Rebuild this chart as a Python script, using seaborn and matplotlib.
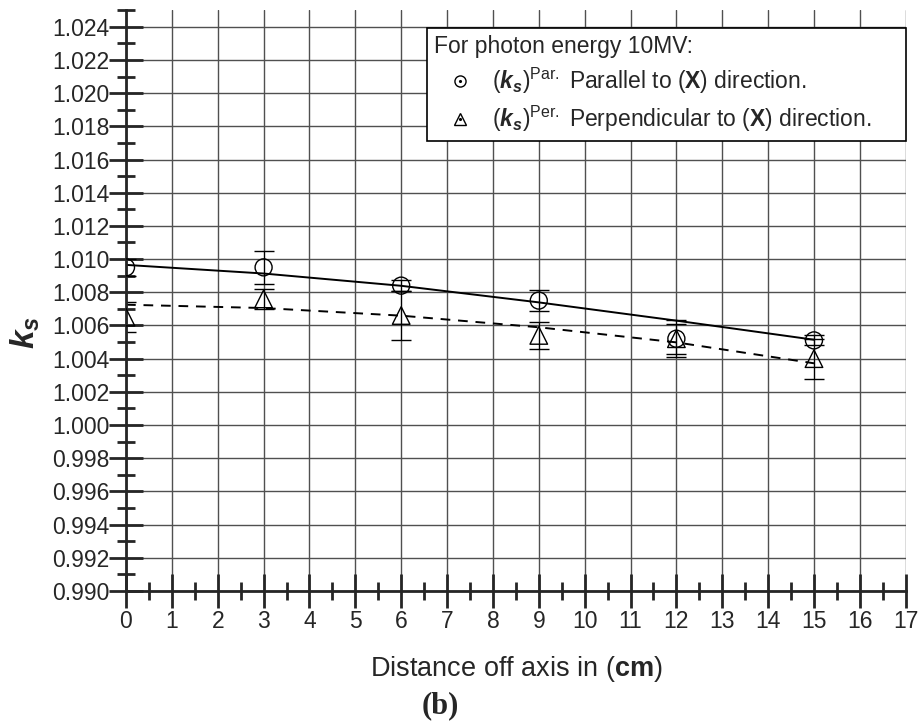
import numpy as np
import pandas as pd
import matplotlib
matplotlib.use("Agg")
import matplotlib.pyplot as plt
from matplotlib.lines import Line2D
from matplotlib.legend_handler import HandlerTuple
from matplotlib.ticker import MultipleLocator
import seaborn as sns

distance = [0, 3, 6, 9, 12, 15]
ks_par = [1.0095, 1.0095, 1.0084, 1.0075, 1.0052, 1.0051]
ks_par_err = [0.0005, 0.0010, 0.00035, 0.00063, 0.0009, 0.0003]
ks_per = [1.0065, 1.0076, 1.0066, 1.0054, 1.0052, 1.0040]
ks_per_err = [0.0009, 0.0006, 0.0015, 0.0008, 0.0011, 0.0012]

# fitted curves
fit_x = [0, 3, 6, 9, 12, 15]
par_fit = [1.00965, 1.00913, 1.00839, 1.00739, 1.00629, 1.00514]
per_fit = [1.00725, 1.00705, 1.00659, 1.00589, 1.00498, 1.00372]

sns.set_style("ticks")
plt.rcParams['font.family'] = ['Liberation Sans', 'DejaVu Sans']
plt.rcParams['mathtext.fontset'] = 'custom'
plt.rcParams['mathtext.rm'] = 'Liberation Sans'
plt.rcParams['mathtext.it'] = 'Liberation Sans:italic'
plt.rcParams['mathtext.bf'] = 'Liberation Sans:bold'
plt.rcParams['mathtext.bfit'] = 'Liberation Sans:italic:bold'

fig = plt.figure(figsize=(9.21, 7.26), dpi=100)
ax = fig.add_axes([0.1368, 0.186, 0.8466, 0.800])

df = pd.DataFrame({'x': distance, 'par': ks_par, 'per': ks_per})
fits = pd.DataFrame({'x': fit_x, 'par': par_fit, 'per': per_fit})

sns.lineplot(data=fits, x='x', y='par', color='black', lw=1.4, ax=ax)
sns.lineplot(data=fits, x='x', y='per', color='black', lw=1.4, ax=ax,
             linestyle=(0, (5, 4)))

ax.errorbar(distance, ks_par, yerr=ks_par_err, fmt='none', ecolor='black',
            elinewidth=0.8, capsize=7, capthick=1.0)
ax.errorbar(distance, ks_per, yerr=ks_per_err, fmt='none', ecolor='black',
            elinewidth=0.8, capsize=7, capthick=1.0)
sns.scatterplot(data=df, x='x', y='par', marker='o', s=150, facecolor='none',
                edgecolor='black', linewidth=1.0, ax=ax, zorder=5)
sns.scatterplot(data=df, x='x', y='per', marker='^', s=160, facecolor='none',
                edgecolor='black', linewidth=1.0, ax=ax, zorder=5)

ax.set_xlim(0, 17)
ax.set_ylim(0.990, 1.025)
ax.xaxis.set_major_locator(MultipleLocator(1))
ax.xaxis.set_minor_locator(MultipleLocator(0.5))
yt = np.arange(0.990, 1.0245, 0.002)
ax.set_yticks(yt)
ax.yaxis.set_minor_locator(MultipleLocator(0.001))
ax.set_yticklabels([f"{v:.3f}" for v in yt])

ax.grid(True, which='major', color='#505050', lw=1.0)
ax.xaxis.get_gridlines()[-1].set_visible(False)
ax.xaxis.get_gridlines()[0].set_visible(False)

for s in ['top', 'right']:
    ax.spines[s].set_visible(False)
ax.spines['left'].set_linewidth(2)
ax.spines['bottom'].set_linewidth(2)
ax.tick_params(which='major', direction='inout', length=24, width=2,
               labelsize=16.5)
ax.tick_params(which='minor', direction='inout', length=13, width=2)
ax.tick_params(axis='x', which='major', pad=2)
ax.tick_params(axis='y', which='major', pad=0)

ax.set_xlabel(r'Distance off axis in ($\mathbf{cm}$)', fontsize=19.5)
ax.xaxis.set_label_coords(0.501, -0.108)
ax.set_ylabel(r'$\mathbfit{k}_{\mathbfit{s}}$', fontsize=24)
ax.yaxis.set_label_coords(-0.108, 0.445)

h_par = (Line2D([], [], ls='none', marker='o', ms=8, mfc='none', mec='black', mew=1.0),
         Line2D([], [], ls='none', marker='.', ms=2.5, color='black'))
h_per = (Line2D([], [], ls='none', marker='^', ms=8, mfc='none', mec='black', mew=1.0),
         Line2D([], [], ls='none', marker='.', ms=2.5, color='black'))
leg = ax.legend([h_par, h_per],
                [r'$(\mathbfit{k}_{\mathbfit{s}})^{\mathrm{Par.}}$ Parallel to ($\mathbf{X}$) direction.',
                 r'$(\mathbfit{k}_{\mathbfit{s}})^{\mathrm{Per.}}$ Perpendicular to ($\mathbf{X}$) direction.'],
                handler_map={tuple: HandlerTuple(ndivide=1, pad=0)},
                title='For photon energy 10MV:', title_fontsize=16.5, fontsize=16.5,
                loc='upper left', bbox_to_anchor=(0.386, 0.769, 0.615, 0.2),
                mode='expand', borderaxespad=0,
                frameon=True, fancybox=False, edgecolor='black', framealpha=1,
                handlelength=2.3, handletextpad=0.25, borderpad=0.3,
                labelspacing=0.35)
leg._legend_box.align = 'left'
leg.get_frame().set_linewidth(1.2)

fig.text(0.478, 1 - 706 / 726, '(b)', fontsize=22, fontweight='bold',
         family='Liberation Serif', ha='center', va='center')

fig.savefig('out.png', dpi=100)
